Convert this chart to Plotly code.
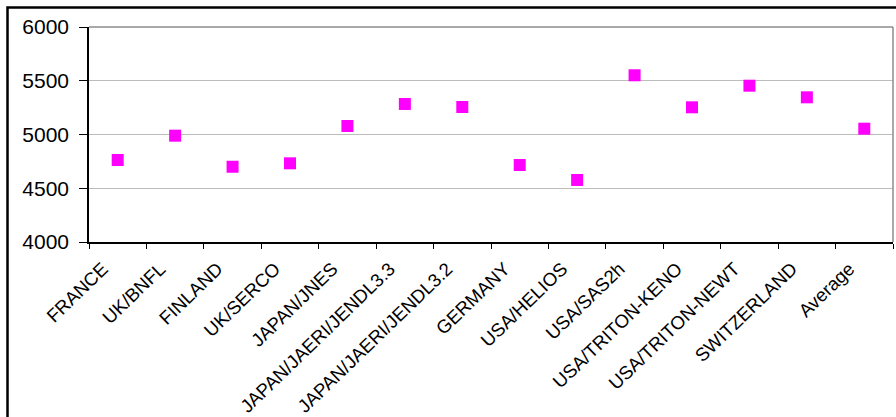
import plotly.graph_objects as go

# Category labels and values for each participant
participants = [
    "FRANCE", "UK/BNFL", "FINLAND", "UK/SERCO", "JAPAN/JNES",
    "JAPAN/JAERI/JENDL3.3", "JAPAN/JAERI/JENDL3.2", "GERMANY",
    "USA/HELIOS", "USA/SAS2h", "USA/TRITON-KENO", "USA/TRITON-NEWT",
    "SWITZERLAND", "Average",
]
values = [4763, 4989, 4700, 4732, 5079, 5284, 5256, 4716, 4577, 5551,
          5253, 5454, 5346, 5054]
y_ticks = [4000, 4500, 5000, 5500, 6000]

W, H = 896, 417
ML, MR, MT, MB = 89, 3, 27, 175

fig = go.Figure(
    go.Scatter(
        x=participants,
        y=values,
        mode="markers",
        marker=dict(symbol="square", size=12, color="#FF00FF",
                    line=dict(width=0)),
        hoverinfo="x+y",
    )
)

family = "Liberation Sans, Arial, sans-serif"

fig.update_layout(
    width=W, height=H,
    margin=dict(l=ML, r=MR, t=MT, b=MB, pad=0),
    paper_bgcolor="white",
    plot_bgcolor="white",
    showlegend=False,
    font=dict(family=family, size=19, color="black"),
    xaxis=dict(
        type="category",
        range=[-0.5, len(participants) - 0.5],
        tickson="boundaries",
        ticks="outside", ticklen=5, tickwidth=1, tickcolor="black",
        showline=True, linecolor="black", linewidth=1.5,
        showgrid=False, zeroline=False,
        tickangle=-44,
        tickfont=dict(family=family, size=18.6, color="black"),
        ticklabelstandoff=7,
        ticklabelshift=-15,
        automargin=False,
    ),
    yaxis=dict(
        range=[4000, 6000],
        tickvals=y_ticks,
        ticktext=[str(v) for v in y_ticks],
        ticks="outside", ticklen=8, tickwidth=1, tickcolor="black",
        ticklabelstandoff=6,
        showline=True, linecolor="black", linewidth=1.5,
        showgrid=True, gridcolor="#bcbcbc", gridwidth=1,
        zeroline=False,
        tickfont=dict(family=family, size=21, color="black"),
        automargin=False,
    ),
)

# Convert a pixel position on the page to paper coordinates
pw = W - ML - MR
ph = H - MT - MB


def px_x(px):
    return (px - ML) / pw


def px_y(py):
    return (H - MB - py) / ph


shapes = [
    # plot-area border on top and right
    dict(type="line", xref="paper", yref="paper", x0=0, x1=1, y0=1, y1=1,
         line=dict(color="#8c8c8c", width=1.5)),
    dict(type="line", xref="paper", yref="paper", x0=1, x1=1, y0=0, y1=1,
         line=dict(color="#8c8c8c", width=1.5)),
    # outer chart frame
    dict(type="rect", xref="paper", yref="paper",
         x0=px_x(7.5), x1=px_x(905), y0=px_y(430), y1=px_y(7.5),
         line=dict(color="black", width=2.5), fillcolor="rgba(0,0,0,0)",
         layer="above"),
]
fig.update_layout(shapes=shapes)

fig.write_html("out.html")
